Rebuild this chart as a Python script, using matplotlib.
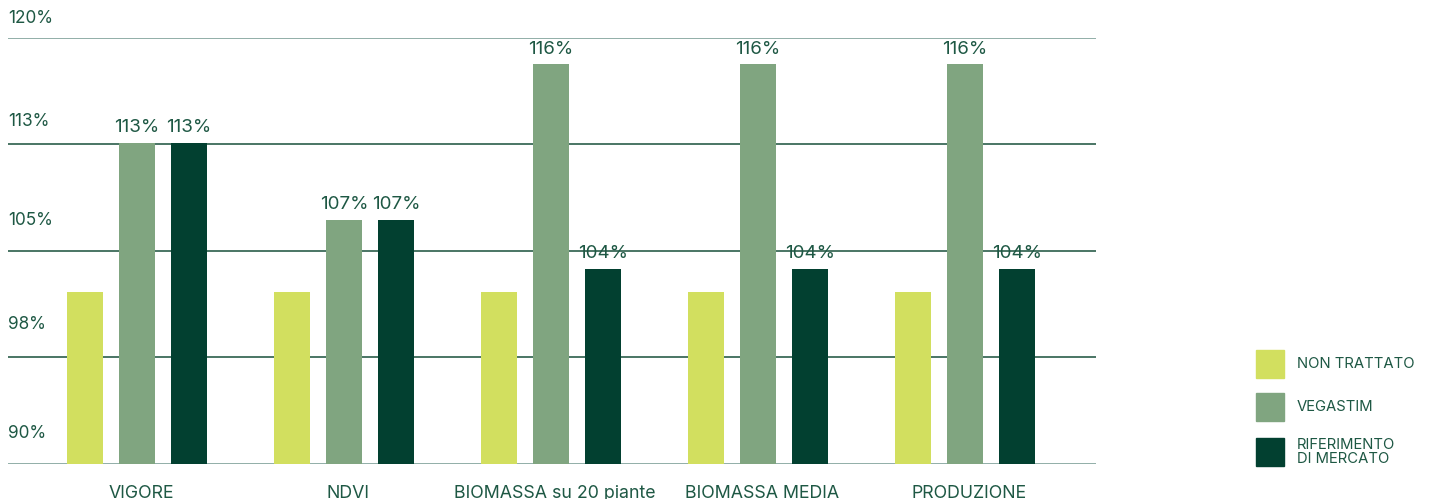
import numpy as np
import matplotlib
matplotlib.use("Agg")
import matplotlib.pyplot as plt
from matplotlib.patches import Rectangle

# categories and series (bar heights, labels as printed)
categories = ["VIGORE", "NDVI", "BIOMASSA su 20 piante", "BIOMASSA MEDIA", "PRODUZIONE"]
series_names = ["NON TRATTATO", "VEGASTIM", "RIFERIMENTO\nDI MERCATO"]
non_trattato = [102.1, 102.1, 102.1, 102.1, 102.1]
vegastim = [112.6, 107.15, 118.1, 118.1, 118.1]
riferimento = [112.6, 107.15, 103.7, 103.7, 103.7]
vegastim_labels = ["113%", "107%", "116%", "116%", "116%"]
riferimento_labels = ["113%", "107%", "104%", "104%", "104%"]
y_ticks = [90, 97.5, 105, 112.5, 120]
y_tick_labels = ["90%", "98%", "105%", "113%", "120%"]

colors = ["#d2df5f", "#80a580", "#024030"]
text_color = "#1e5844"
grid_dark = "#2b5d4a"
grid_light = "#7fa199"

plt.rcParams["font.family"] = ["Inter", "DejaVu Sans"]

fig = plt.figure(figsize=(14.3, 4.99), dpi=100)
ax = fig.add_axes([8 / 1430, 1 - 463.7 / 499, 1088 / 1430, 426.2 / 499])

x = np.arange(len(categories))
width = 36 / 207
offset = 52 / 207

for i, (vals, c) in enumerate(zip([non_trattato, vegastim, riferimento], colors)):
    ax.bar(x + (i - 1) * offset, np.array(vals) - 90, width, bottom=90, color=c, zorder=3)

for xi, v, lab in zip(x, vegastim, vegastim_labels):
    ax.annotate(lab, (xi, v), xytext=(0, 5), textcoords="offset points",
                ha="center", va="bottom", fontsize=13.5, color=text_color)
for xi, v, lab in zip(x, riferimento, riferimento_labels):
    ax.annotate(lab, (xi + offset, v), xytext=(0, 5), textcoords="offset points",
                ha="center", va="bottom", fontsize=13.5, color=text_color)

# gridlines: outer ones lighter
for t in y_ticks:
    c = grid_light if t in (90, 120) else grid_dark
    ax.axhline(t, color=c, lw=1.2, zorder=1)

# y labels sit above their lines, inside the plot
label_gap_px = [30, 33, 30, 23, 19]
for t, lab, g in zip(y_ticks, y_tick_labels, label_gap_px):
    ax.annotate(lab, (-0.623, t), xytext=(0, g * 0.72), textcoords="offset points",
                ha="left", va="center", fontsize=12.4, color=text_color)

ax.set_xlim(-0.623, 4.633)
ax.set_ylim(90, 120)
ax.set_yticks([])
ax.set_xticks(x + 0.02)
ax.set_xticklabels(categories, fontsize=12.8, color=text_color)
ax.tick_params(axis="x", length=0, pad=15)
for s in ax.spines.values():
    s.set_visible(False)

# legend drawn by hand
leg_tops = [350, 393, 438]
for name, c, top in zip(series_names, colors, leg_tops):
    fig.add_artist(Rectangle((1256 / 1430, 1 - (top + 28) / 499), 28 / 1430, 28 / 499,
                             transform=fig.transFigure, color=c))
    fig.text(1297 / 1430, 1 - (top + 14) / 499, name, ha="left", va="center",
             fontsize=10.7, color=text_color, linespacing=0.95)

fig.savefig("out.png", dpi=100)
